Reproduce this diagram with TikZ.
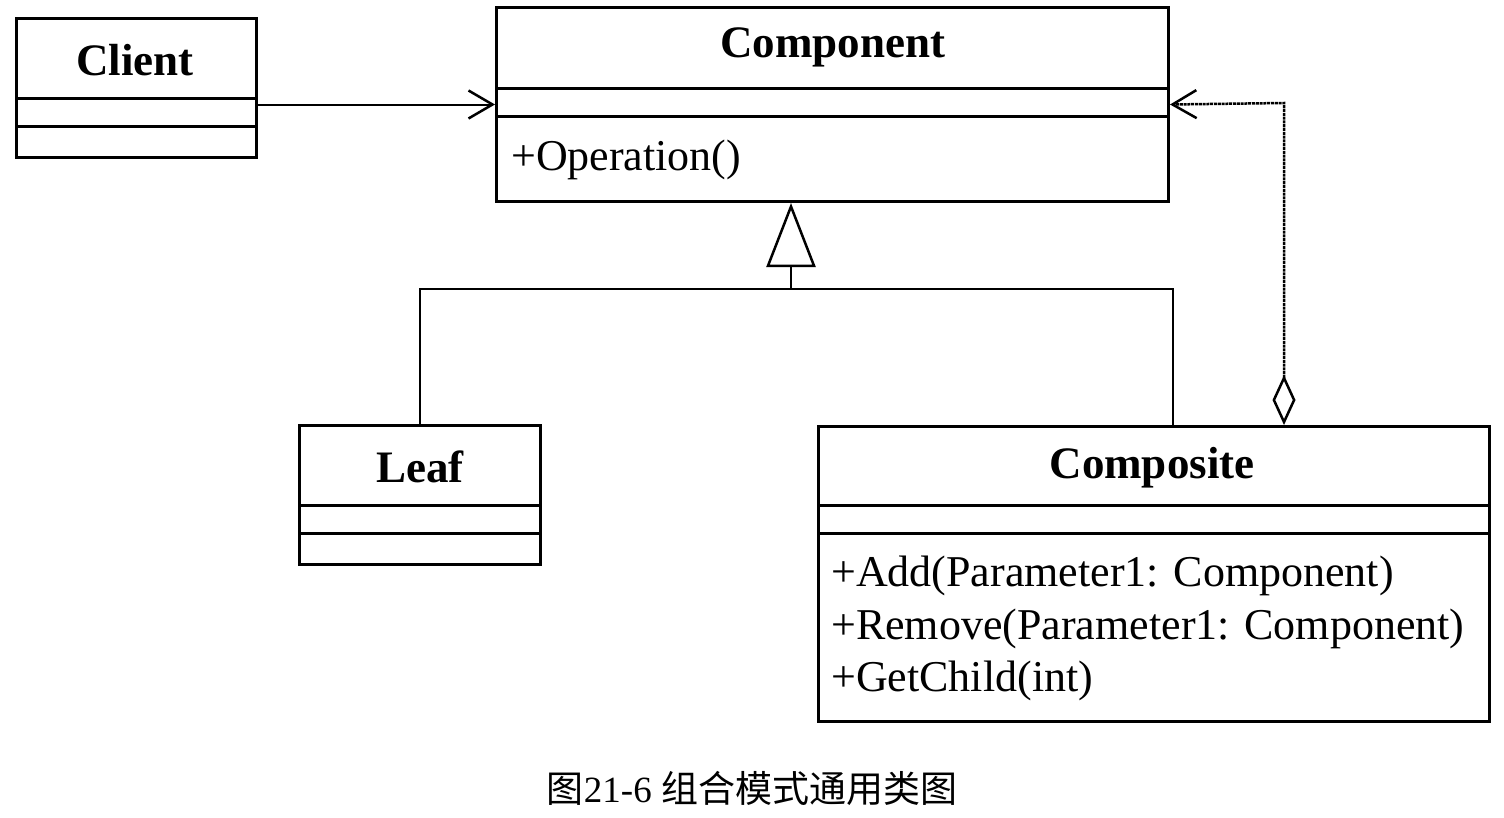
\documentclass[tikz,border=0pt]{standalone}
\usepackage{fontspec}
\setmainfont{Liberation Serif}
\newfontfamily\cjk{Noto Sans CJK SC}
\usetikzlibrary{arrows.meta}
\begin{document}
\begin{tikzpicture}[x=1pt,y=-1pt,
  box/.style={draw,line width=3pt,anchor=north west,inner sep=0pt},
  divider/.style={line width=3pt},
  ttl/.style={font=\fontsize{45}{50}\selectfont\bfseries,inner sep=0pt},
  op/.style={font=\fontsize{44}{48}\selectfont,anchor=west,inner sep=0pt},
  conn/.style={line width=2pt},
  openbarb/.style={-{Straight Barb[length=24pt,width=28pt,line width=2.5pt]}}]
\useasboundingbox[fill=white] (0,0) rectangle (1504,817);

% Client
\node[box,minimum width=240pt,minimum height=139pt] (client) at (15,17) {};
\draw[divider] (15,98) -- (255,98);
\draw[divider] (15,126) -- (255,126);
\node[ttl] (clientT) at (135,60) {Client};

% Component
\node[box,minimum width=672pt,minimum height=194pt] (comp) at (495,6) {};
\draw[divider] (495,88) -- (1167,88);
\draw[divider] (495,116) -- (1167,116);
\node[ttl] (compT) at (833,47) {Component};
\node[op] (compOp) at (511,160) {+Operation()};

% Leaf
\node[box,minimum width=241pt,minimum height=139pt] (leaf) at (298,424) {};
\draw[divider] (298,505) -- (539,505);
\draw[divider] (298,533) -- (539,533);
\node[ttl] (leafT) at (420,467) {Leaf};

% Composite
\node[box,minimum width=671pt,minimum height=295pt] (compo) at (817,425) {};
\draw[divider] (817,505) -- (1488,505);
\draw[divider] (817,533) -- (1488,533);
\node[ttl] (compoT) at (1152,468) {Composite};
\node[op] (op1) at (831,576) {+Add(Parameter1: Component)};
\node[op] (op2) at (831,629) {+Remove(Parameter1: Component)};
\node[op] (op3) at (831,681) {+GetChild(int)};

% Client -> Component
\draw[conn,openbarb] (client.east |- comp.west) -- (comp.west);

% Generalization
\coordinate (inh) at (791,289);
\coordinate (cr) at (1173,289);
\draw[conn,-{Triangle[open,length=64pt,width=49pt,line width=2.5pt]}] (inh) -- (inh |- comp.south);
\draw[conn] (leaf.north) |- (inh) -- (cr) -- (cr |- compo.north);

% Aggregation
\coordinate (ag) at (1284,103);
\draw[line width=2.5pt,dash pattern=on 3pt off 0.8pt,{Diamond[open,length=50pt,width=23pt,line width=2.5pt]}-{Straight Barb[length=24pt,width=28pt,line width=2.5pt]}]
  (ag |- compo.north) -- (ag) -- (comp.east);

% Caption
\node[font=\fontsize{37}{42}\selectfont] (cap) at (752,788) {{\cjk 图}21-6 {\cjk 组合模式通用类图}};
\end{tikzpicture}
\end{document}
